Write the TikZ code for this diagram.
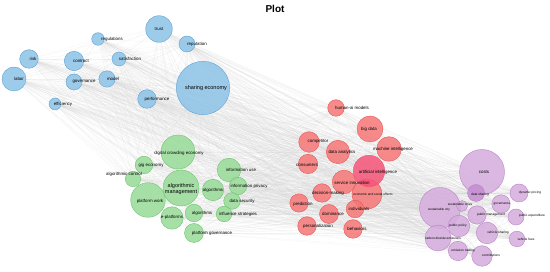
\documentclass[tikz,border=0pt]{standalone}
\usepackage{fontspec}
\setmainfont{Liberation Sans}
\usetikzlibrary{backgrounds}

\definecolor{kwblue}{RGB}{140,194,230}
\definecolor{kwblueline}{RGB}{94,163,212}
\definecolor{kwgreen}{RGB}{152,219,152}
\definecolor{kwgreenline}{RGB}{110,196,110}
\definecolor{kwred}{RGB}{246,118,118}
\definecolor{kwredline}{RGB}{232,88,88}
\definecolor{kwpink}{RGB}{245,84,120}
\definecolor{kwpurple}{RGB}{213,172,221}
\definecolor{kwpurpleline}{RGB}{184,132,198}
\definecolor{kwplum}{RGB}{196,140,208}

\def\kwlist{trust,regul,reput,risk,contract,satisf,labor,gov,model,sharing,perf,effic,
  digital,gig,algctrl,algmgmt,platwork,infouse,algos,infopriv,datasec,eplat,algos2,influence,platgov,
  humanai,bigdata,compet,analytics,machine,consumers,ai,service,econ,decision,predict,indiv,domin,person,behav,
  costs,suscity,datashare,dynprice,suscities,gov2,pubmgmt,pubexp,pubpol,vehfees,vehshare,carbon,emission,contrib}

\begin{document}
\begin{tikzpicture}[
    x=1pt, y=-1pt,
    kw/.style={circle, inner sep=0pt, draw, line width=0.4pt, fill opacity=0.85},
    bluekw/.style={kw, fill=kwblue, draw=kwblueline},
    greenkw/.style={kw, fill=kwgreen, draw=kwgreenline},
    redkw/.style={kw, fill=kwred, draw=kwredline},
    purplekw/.style={kw, fill=kwpurple, draw=kwpurpleline},
    lbl/.style={inner sep=0pt, font=\fontsize{4.4}{5}\selectfont},
    lblsmall/.style={inner sep=0pt, font=\fontsize{3.2}{3.8}\selectfont},
    lblbig/.style={inner sep=0pt, font=\fontsize{5.5}{6.5}\selectfont},
    edge/.style={line width=0.2pt, draw=gray!40, draw opacity=0.25},
  ]
  \useasboundingbox (0,0) rectangle (550,272);
  \node[font=\fontsize{10}{12}\selectfont\bfseries] (title) at (275,9) {Plot};

  % blue cluster
  \node[bluekw, minimum size=26.6pt] (trust) at (159,29) {};
  \node[bluekw, minimum size=12.6pt] (regul) at (98,39) {};
  \node[bluekw, minimum size=16pt] (reput) at (187,44) {};
  \node[bluekw, minimum size=18.6pt] (risk) at (29,59) {};
  \node[bluekw, minimum size=19.4pt] (contract) at (74,61) {};
  \node[bluekw, minimum size=14pt] (satisf) at (119,59) {};
  \node[bluekw, minimum size=24pt] (labor) at (14,79) {};
  \node[bluekw, minimum size=16pt] (gov) at (74,82) {};
  \node[bluekw, minimum size=16.4pt] (model) at (107,79) {};
  \node[bluekw, minimum size=53.4pt] (sharing) at (203,88) {};
  \node[bluekw, minimum size=18.6pt] (perf) at (147,99) {};
  \node[bluekw, minimum size=12pt] (effic) at (55,104) {};

  % green cluster
  \node[greenkw, minimum size=34pt] (digital) at (178,152) {};
  \node[greenkw, minimum size=17.6pt] (gig) at (144,165) {};
  \node[greenkw, minimum size=15.4pt] (algctrl) at (133,179) {};
  \node[greenkw, minimum size=34.6pt] (platwork) at (148,200) {};
  \node[greenkw, minimum size=36pt] (algmgmt) at (181,188) {};
  \node[greenkw, minimum size=23.6pt] (infouse) at (229,170) {};
  \node[greenkw, minimum size=21.4pt] (algos) at (213,190) {};
  \node[greenkw, minimum size=17.6pt] (infopriv) at (238,186) {};
  \node[greenkw, minimum size=16.6pt] (datasec) at (232,201) {};
  \node[greenkw, minimum size=22.4pt] (eplat) at (172,218) {};
  \node[greenkw, minimum size=17.6pt] (algos2) at (194,213) {};
  \node[greenkw, minimum size=15.6pt] (influence) at (224,214) {};
  \node[greenkw, minimum size=19pt] (platgov) at (194,233) {};

  % red cluster
  \node[redkw, minimum size=16.6pt] (humanai) at (336,108) {};
  \node[redkw, minimum size=26pt] (bigdata) at (370,129) {};
  \node[redkw, minimum size=20.6pt] (compet) at (309,142) {};
  \node[redkw, minimum size=23.4pt] (analytics) at (338,152) {};
  \node[redkw, minimum size=24.6pt] (machine) at (389,149) {};
  \node[redkw, minimum size=19.4pt] (consumers) at (308,164) {};
  \node[redkw, minimum size=30pt] (econ) at (367,194) {};
  \node[redkw, minimum size=23.6pt] (service) at (344,182) {};
  \node[redkw, fill=kwpink, draw=kwpink, minimum size=31.6pt] (ai) at (369,171) {};
  \node[redkw, minimum size=18.6pt] (decision) at (322,193) {};
  \node[redkw, minimum size=18.4pt] (predict) at (299,203) {};
  \node[redkw, minimum size=17.6pt] (indiv) at (355,209) {};
  \node[redkw, minimum size=19pt] (domin) at (329,214) {};
  \node[redkw, minimum size=18.6pt] (person) at (307,226) {};
  \node[redkw, minimum size=18.6pt] (behav) at (353,229) {};

  % purple cluster
  \node[purplekw, minimum size=45pt] (costs) at (482,172) {};
  \node[purplekw, minimum size=41pt] (suscity) at (440,208) {};
  \node[purplekw, fill=kwplum, minimum size=17pt] (datashare) at (476,193) {};
  \node[purplekw, minimum size=18pt] (dynprice) at (519,193) {};
  \node[purplekw, minimum size=11pt] (suscities) at (462,206) {};
  \node[purplekw, minimum size=18.4pt] (gov2) at (501,204) {};
  \node[purplekw, minimum size=18.4pt] (pubmgmt) at (477,215) {};
  \node[purplekw, minimum size=16pt] (pubexp) at (516,217) {};
  \node[purplekw, minimum size=21.6pt] (pubpol) at (459,226) {};
  \node[purplekw, minimum size=15.6pt] (vehfees) at (517,239) {};
  \node[purplekw, minimum size=21.6pt] (vehshare) at (487,233) {};
  \node[purplekw, minimum size=26pt] (carbon) at (438,238) {};
  \node[purplekw, minimum size=19.4pt] (emission) at (458,251) {};
  \node[purplekw, minimum size=20.6pt] (contrib) at (482,256) {};

  % labels
  \node[lbl] (trust-t) at (159,29) {trust};
  \node[lbl] (regul-t) at (112,39) {regulations};
  \node[lbl] (reput-t) at (197,44) {reputation};
  \node[lbl] (risk-t) at (33,59) {risk};
  \node[lbl] (contract-t) at (81,61) {contract};
  \node[lbl] (satisf-t) at (130,59) {satisfaction};
  \node[lbl] (labor-t) at (19,79) {labor};
  \node[lbl] (gov-t) at (84,82) {governance};
  \node[lbl] (model-t) at (113,79) {model};
  \node[lblbig] (sharing-t) at (206,88) {sharing economy};
  \node[lbl] (perf-t) at (157,99) {performance};
  \node[lbl] (effic-t) at (63,104) {efficiency};

  \node[lbl] (digital-t) at (179,153) {digital crowding economy};
  \node[lbl] (gig-t) at (151,165) {gig economy};
  \node[lbl] (algctrl-t) at (124,174) {algorithmic control};
  \node[lblbig, align=center] (algmgmt-t) at (181,189) {algorithmic\\management};
  \node[lbl] (platwork-t) at (150,201) {platform work};
  \node[lbl] (infouse-t) at (241,170) {information use};
  \node[lbl] (algos-t) at (213,190) {algorithms};
  \node[lbl] (infopriv-t) at (249,186) {information privacy};
  \node[lbl] (datasec-t) at (242,201) {data security};
  \node[lbl] (eplat-t) at (172,217) {e-platforms};
  \node[lbl] (algos2-t) at (202,213) {algorithms};
  \node[lbl] (influence-t) at (238,214) {influence strategies};
  \node[lbl] (platgov-t) at (212,233) {platform governance};

  \node[lbl] (humanai-t) at (352,108) {human-ai models};
  \node[lbl] (bigdata-t) at (369,129) {big data};
  \node[lbl] (compet-t) at (318,141) {competitor};
  \node[lbl] (analytics-t) at (342,152) {data analytics};
  \node[lbl] (machine-t) at (393,149) {machine intelligence};
  \node[lbl] (consumers-t) at (307,165) {consumers};
  \node[lbl] (ai-t) at (378,172) {artificial intelligence};
  \node[lbl] (service-t) at (352,183) {service innovation};
  \node[lblsmall] (econ-t) at (373,194) {economic and social effects};
  \node[lbl] (decision-t) at (328,193) {decision-making};
  \node[lbl] (predict-t) at (303,204) {prediction};
  \node[lbl] (indiv-t) at (359,209) {individuals};
  \node[lbl] (domin-t) at (333,214) {dominance};
  \node[lbl] (person-t) at (318,226) {personalization};
  \node[lbl] (behav-t) at (357,229) {behaviors};

  \node[lbl] (costs-t) at (484,172) {costs};
  \node[lblsmall] (suscity-t) at (439,210) {sustainable city};
  \node[lblsmall] (datashare-t) at (480,195) {data sharing};
  \node[lblsmall] (dynprice-t) at (530,193) {dynamic pricing};
  \node[lblsmall] (suscities-t) at (460,204) {sustainable cities};
  \node[lblsmall] (gov2-t) at (502,204) {governance};
  \node[lblsmall] (pubmgmt-t) at (491,215) {public management};
  \node[lblsmall] (pubexp-t) at (532,216) {public expenditure};
  \node[lblsmall] (pubpol-t) at (458,226) {public policy};
  \node[lblsmall] (vehfees-t) at (526,239) {vehicle fees};
  \node[lblsmall] (vehshare-t) at (498,233) {vehicle sharing};
  \node[lblsmall] (carbon-t) at (443,238) {carbon dioxide emissions};
  \node[lblsmall] (emission-t) at (463,251) {emission trading};
  \node[lblsmall] (contrib-t) at (491,255) {contributions};

  \begin{scope}[on background layer]
    \foreach \a [count=\i] in \kwlist {
      \foreach \b [count=\j] in \kwlist {
        \ifnum\j>\i \draw[edge] (\a) -- (\b); \fi
      }
    }
  \end{scope}
\end{tikzpicture}
\end{document}
